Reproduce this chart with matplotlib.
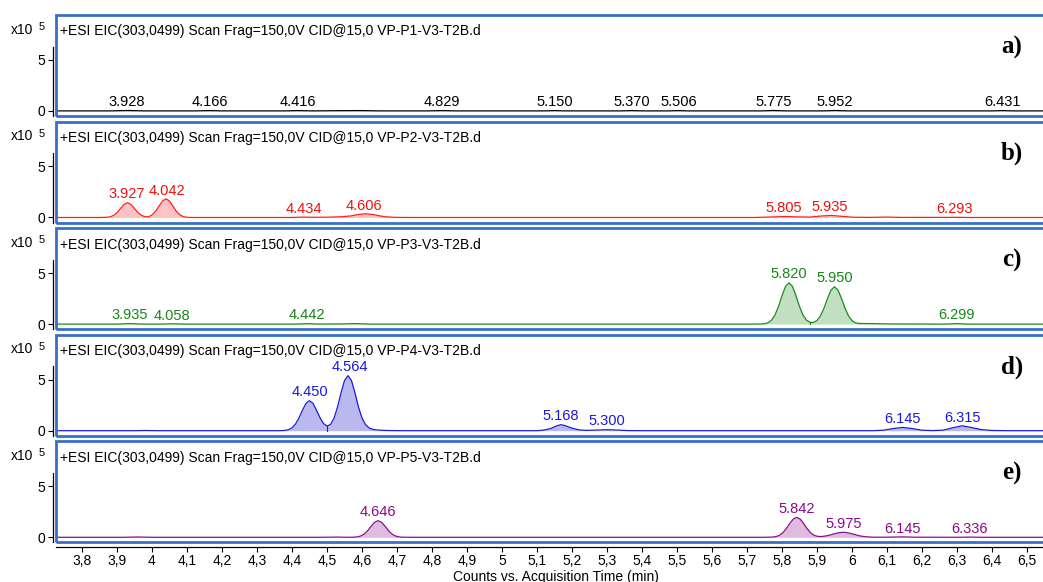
import numpy as np
import matplotlib
matplotlib.use('Agg')
import matplotlib.pyplot as plt
from matplotlib.patches import Rectangle

plt.rcParams['font.family'] = ['Liberation Sans', 'DejaVu Sans']

W, H = 1043, 582

# EIC traces, (time in min, counts in units of 1e5)
trace_a = [(3.72, 0), (3.88, 0), (3.93, 0.04), (3.98, 0), (4.12, 0), (4.166, 0.03), (4.20, 0),
           (4.38, 0), (4.416, 0.03), (4.46, 0), (4.53, 0.02), (4.60, 0.03), (4.65, 0),
           (4.79, 0), (4.829, 0.03), (4.87, 0), (5.12, 0), (5.15, 0.03), (5.18, 0),
           (5.34, 0), (5.37, 0.03), (5.40, 0), (5.48, 0), (5.506, 0.03), (5.53, 0),
           (5.74, 0), (5.775, 0.04), (5.81, 0), (5.92, 0), (5.952, 0.04), (5.99, 0),
           (6.40, 0), (6.431, 0.03), (6.46, 0), (6.60, 0)]

trace_b = [(3.72, 0), (3.85, 0), (3.87, 0.02), (3.88, 0.06), (3.89, 0.20), (3.90, 0.47),
           (3.91, 0.88), (3.92, 1.28), (3.93, 1.45), (3.94, 1.28), (3.95, 0.88), (3.96, 0.47),
           (3.97, 0.21), (3.98, 0.08), (3.99, 0.07), (4.00, 0.25), (4.01, 0.59), (4.02, 1.11),
           (4.03, 1.61), (4.04, 1.83), (4.05, 1.61), (4.06, 1.11), (4.07, 0.59), (4.08, 0.25),
           (4.09, 0.08), (4.10, 0.02), (4.12, 0), (4.40, 0), (4.43, 0.04), (4.46, 0.02),
           (4.50, 0.03), (4.54, 0.07), (4.57, 0.16), (4.59, 0.30), (4.61, 0.36), (4.63, 0.30),
           (4.65, 0.16), (4.67, 0.06), (4.70, 0.01), (4.75, 0), (5.72, 0), (5.78, 0.06),
           (5.81, 0.10), (5.84, 0.06), (5.88, 0.04), (5.91, 0.14), (5.94, 0.20), (5.97, 0.12),
           (6.00, 0.03), (6.05, 0.01), (6.10, 0.04), (6.14, 0.01), (6.28, 0.01), (6.30, 0.02),
           (6.33, 0), (6.60, 0)]

trace_c = [(3.72, 0), (3.90, 0), (3.935, 0.05), (3.97, 0), (4.03, 0), (4.058, 0.03), (4.09, 0),
           (4.41, 0), (4.442, 0.04), (4.48, 0), (4.55, 0.02), (4.58, 0.05), (4.62, 0),
           (5.72, 0), (5.74, 0.01), (5.75, 0.04), (5.76, 0.13), (5.77, 0.38), (5.78, 0.89),
           (5.79, 1.73), (5.80, 2.77), (5.81, 3.69), (5.82, 4.05), (5.83, 3.69), (5.84, 2.77),
           (5.85, 1.73), (5.86, 0.89), (5.87, 0.39), (5.88, 0.17), (5.89, 0.16), (5.90, 0.35),
           (5.91, 0.81), (5.92, 1.56), (5.93, 2.51), (5.94, 3.33), (5.95, 3.66), (5.96, 3.33),
           (5.97, 2.51), (5.98, 1.56), (5.99, 0.81), (6.00, 0.34), (6.01, 0.12), (6.02, 0.06),
           (6.05, 0.05), (6.08, 0.03), (6.12, 0.01), (6.27, 0), (6.30, 0.05), (6.33, 0), (6.60, 0)]

trace_d = [(3.72, 0), (3.95, 0), (3.98, 0.02), (4.02, 0), (4.36, 0), (4.37, 0.01), (4.38, 0.03),
           (4.39, 0.10), (4.40, 0.28), (4.41, 0.65), (4.42, 1.26), (4.43, 2.01), (4.44, 2.68),
           (4.45, 2.94), (4.46, 2.68), (4.47, 2.01), (4.48, 1.27), (4.49, 0.70), (4.50, 0.46),
           (4.51, 0.61), (4.52, 1.22), (4.53, 2.32), (4.54, 3.70), (4.55, 4.91), (4.56, 5.40),
           (4.57, 4.91), (4.58, 3.70), (4.59, 2.31), (4.60, 1.25), (4.61, 0.60), (4.62, 0.28),
           (4.63, 0.14), (4.64, 0.08), (4.66, 0.03), (4.69, 0.01), (4.72, 0), (5.10, 0),
           (5.12, 0.06), (5.14, 0.22), (5.155, 0.45), (5.168, 0.59), (5.18, 0.50), (5.20, 0.25),
           (5.22, 0.08), (5.24, 0.03), (5.27, 0.06), (5.30, 0.10), (5.33, 0.06), (5.36, 0.01),
           (5.40, 0), (6.06, 0), (6.09, 0.05), (6.12, 0.22), (6.145, 0.32), (6.17, 0.22),
           (6.20, 0.05), (6.23, 0.01), (6.26, 0.05), (6.29, 0.30), (6.315, 0.48), (6.34, 0.32),
           (6.37, 0.10), (6.40, 0.02), (6.45, 0), (6.60, 0)]

trace_e = [(3.72, 0), (3.92, 0), (3.96, 0.03), (4.00, 0), (4.48, 0), (4.53, 0.02), (4.56, 0),
           (4.576, 0.01), (4.586, 0.04), (4.596, 0.12), (4.606, 0.31), (4.616, 0.64),
           (4.626, 1.08), (4.636, 1.47), (4.646, 1.63), (4.656, 1.47), (4.666, 1.08),
           (4.676, 0.64), (4.686, 0.31), (4.696, 0.12), (4.706, 0.04), (4.716, 0.01), (4.74, 0),
           (5.75, 0), (5.772, 0.02), (5.782, 0.065), (5.792, 0.18), (5.802, 0.43), (5.812, 0.84),
           (5.822, 1.34), (5.832, 1.78), (5.842, 1.96), (5.852, 1.78), (5.862, 1.34),
           (5.872, 0.84), (5.882, 0.43), (5.892, 0.19), (5.902, 0.09), (5.912, 0.075),
           (5.922, 0.11), (5.935, 0.20), (5.945, 0.30), (5.955, 0.39), (5.965, 0.46),
           (5.975, 0.49), (5.985, 0.46), (5.995, 0.39), (6.005, 0.30), (6.015, 0.20),
           (6.025, 0.12), (6.04, 0.05), (6.06, 0.01), (6.10, 0.01), (6.145, 0.04), (6.18, 0.01),
           (6.30, 0), (6.336, 0.02), (6.37, 0), (6.60, 0)]

# retention times printed above the peaks
labels_a = [3.928, 4.166, 4.416, 4.829, 5.150, 5.370, 5.506, 5.775, 5.952, 6.431]
labels_b = [3.927, 4.042, 4.434, 4.606, 5.805, 5.935, 6.293]
labels_c = [3.935, 4.058, 4.442, 5.820, 5.950, 6.299]
labels_d = [4.450, 4.564, 5.168, 5.300, 6.145, 6.315]
labels_e = [4.646, 5.842, 5.975, 6.145, 6.336]

# integration split points (valley drop lines)
splits_b = [3.99]
splits_c = [5.88]
splits_d = [4.50]

panel_tags = ['a)', 'b)', 'c)', 'd)', 'e)']
sample_names = ['P1', 'P2', 'P3', 'P4', 'P5']

x_ticks = np.round(np.arange(3.8, 6.55, 0.1), 1)
x_tick_labels = ['3,8', '3,9', '4', '4,1', '4,2', '4,3', '4,4', '4,5', '4,6', '4,7',
                 '4,8', '4,9', '5', '5,1', '5,2', '5,3', '5,4', '5,5', '5,6', '5,7',
                 '5,8', '5,9', '6', '6,1', '6,2', '6,3', '6,4', '6,5']

panels = [
    (trace_a, labels_a, [], 'black', '#9a9a9a', 'black'),
    (trace_b, labels_b, splits_b, '#ff1f1f', '#ffc2c2', '#ee1111'),
    (trace_c, labels_c, splits_c, '#1a8a1a', '#c2dfc2', '#168816'),
    (trace_d, labels_d, splits_d, '#1c1cd4', '#b9b9ef', '#1a1ad8'),
    (trace_e, labels_e, [], '#8a0f8a', '#dfbcdf', '#8a0a8a'),
]

fig = plt.figure(figsize=(W / 100, H / 100), dpi=100)

ax_left, ax_right = 56, 1062
ax_h = 101
pitch = 106.6
frame_blue = '#3a6fc8'

for i, (trace, labels, splits, line_c, fill_c, text_c) in enumerate(panels):
    top = 15 + pitch * i
    ax = fig.add_axes([ax_left / W, 1 - (top + ax_h) / H,
                       (ax_right - ax_left) / W, ax_h / H])
    t, y = np.array(trace, dtype=float).T

    ax.fill_between(t, 0, y, color=fill_c, lw=0)
    ax.plot(t, y, color=line_c, lw=0.9)
    for s in splits:
        ax.plot([s, s], [0, np.interp(s, t, y)], color=line_c, lw=0.8)

    for rt in labels:
        near = y[np.abs(t - rt) <= 0.012]
        ytop = near.max() if len(near) else 0
        ax.text(rt, ytop + 0.42, f'{rt:.3f}', color=text_c, fontsize=10.5,
                ha='center', va='baseline')

    ax.set_xlim(3.8 + (ax_left - 82) / 350, 3.8 + (ax_right - 82) / 350)
    ax.set_ylim(-0.5, 9.4)

    # blue chromatogram frame
    ax.add_patch(Rectangle((0, 0), 1, 1, transform=ax.transAxes, fill=False,
                           ec=frame_blue, lw=2.0, clip_on=False, zorder=5))

    for side in ['top', 'right', 'bottom']:
        ax.spines[side].set_visible(False)
    ax.spines['left'].set_position(('outward', 2.5))
    ax.spines['left'].set_bounds(-0.5, 6.3)
    ax.spines['left'].set_linewidth(0.9)
    ax.set_yticks([0, 5])
    ax.set_yticklabels(['0', '5'])
    ax.tick_params(axis='y', direction='out', length=3.5, width=0.8, pad=1.5,
                   labelsize=10)

    if i == len(panels) - 1:
        ax.spines['bottom'].set_visible(True)
        ax.spines['bottom'].set_position(('outward', 3))
        ax.spines['bottom'].set_linewidth(0.9)
        ax.set_xticks(x_ticks)
        ax.set_xticklabels(x_tick_labels)
        ax.tick_params(axis='x', direction='out', length=3.5, width=0.8, pad=2,
                       labelsize=10)
    else:
        ax.set_xticks([])

    ax.annotate(f'+ESI EIC(303,0499) Scan Frag=150,0V CID@15,0 VP-{sample_names[i]}-V3-T2B.d',
                xy=(0, 1), xycoords='axes fraction', xytext=(4, -20.5),
                textcoords='offset pixels', fontsize=10, va='baseline', ha='left')
    ax.annotate('x10', xy=(0, 1), xycoords='axes fraction', xytext=(-45, -18.5),
                textcoords='offset pixels', fontsize=10, va='baseline', ha='left')
    ax.annotate('5', xy=(0, 1), xycoords='axes fraction', xytext=(-17, -15),
                textcoords='offset pixels', fontsize=8, va='baseline', ha='left')
    ax.annotate(panel_tags[i], xy=(0, 1), xycoords='axes fraction',
                xytext=(1012 - ax_left, -32), textcoords='offset pixels',
                fontsize=18, fontweight='bold', family='Liberation Serif',
                ha='center', va='center')

fig.text(556 / W, 1 - 580.5 / H, 'Counts vs. Acquisition Time (min)', ha='center',
         va='baseline', fontsize=10)

fig.savefig('out.png', dpi=100)
